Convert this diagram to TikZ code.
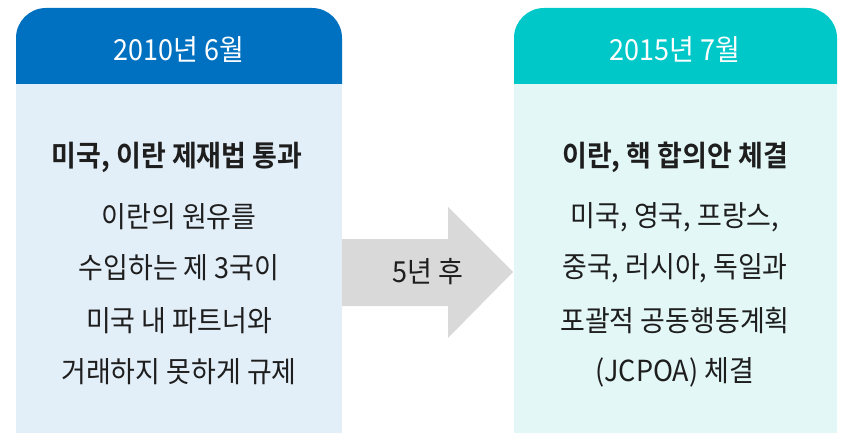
\documentclass[tikz,border=0pt]{standalone}
\usepackage{fontspec}
\setmainfont{Noto Sans CJK KR}
\newfontfamily\kr[FakeStretch=0.93]{Noto Sans CJK KR}
\newfontfamily\krb[FakeStretch=0.93]{Noto Sans CJK KR Bold}
\definecolor{hdrL}{RGB}{0,112,192}
\definecolor{bodyL}{RGB}{227,239,248}
\definecolor{hdrR}{RGB}{0,200,200}
\definecolor{bodyR}{RGB}{226,247,246}
\definecolor{arrowgray}{RGB}{217,217,217}
\definecolor{txt}{RGB}{30,30,30}
\begin{document}
\begin{tikzpicture}[x=1pt,y=-1pt,
  hdrtext/.style={text=white,font=\kr\fontsize{29}{32}\selectfont,inner sep=0pt},
  ttltext/.style={text=txt,font=\krb\fontsize{29}{32}\selectfont,inner sep=0pt},
  bodytext/.style={text=txt,font=\kr\fontsize{29}{32}\selectfont,inner sep=0pt}]
\useasboundingbox (0,0) rectangle (841,433);
% left box
\fill[bodyL] (16,83) rectangle (342,433);
\fill[hdrL] (16,84) [rounded corners=30pt] -- (16,8) -- (342,8) [sharp corners] -- (342,84) -- cycle;
% right box
\fill[bodyR] (514,83) rectangle (837,433);
\fill[hdrR] (514,84) [rounded corners=30pt] -- (514,8) -- (837,8) [sharp corners] -- (837,84) -- cycle;
% arrow
\fill[arrowgray] (342,239) -- (448,239) -- (448,207) -- (513,272) -- (448,338) -- (448,306) -- (342,306) -- cycle;
\node[bodytext] (gap) at (428,272) {5년 후};
% texts left
\node[hdrtext] (h1) at (179,50) {2010년 6월};
\node[ttltext] (t1) at (177,157) {미국, 이란 제재법 통과};
\node[bodytext] (l1a) at (179,217) {이란의 원유를};
\node[bodytext] (l1b) at (179,268) {수입하는 제 3국이};
\node[bodytext] (l1c) at (179,321) {미국 내 파트너와};
\node[bodytext] (l1d) at (179,372) {거래하지 못하게 규제};
% texts right
\node[hdrtext] (h2) at (675,50) {2015년 7월};
\node[ttltext] (t2) at (675,157) {이란, 핵 합의안 체결};
\node[bodytext] (l2a) at (675,217) {미국, 영국, 프랑스,};
\node[bodytext] (l2b) at (675,268) {중국, 러시아, 독일과};
\node[bodytext] (l2c) at (675,321) {포괄적 공동행동계획};
\node[bodytext] (l2d) at (675,372) {(JCPOA) 체결};
\end{tikzpicture}
\end{document}
